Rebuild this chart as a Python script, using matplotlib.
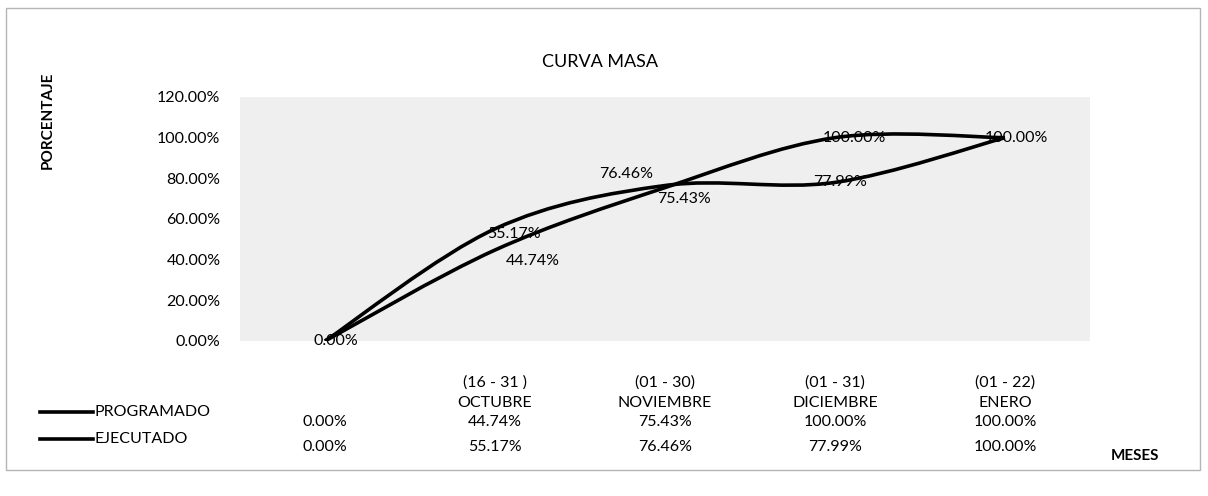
import matplotlib
matplotlib.use("Agg")
import matplotlib.pyplot as plt
import matplotlib.transforms as mtransforms
from matplotlib.path import Path
from matplotlib.patches import PathPatch, Rectangle
from matplotlib.lines import Line2D

plt.rcParams["font.family"] = ["Lato", "DejaVu Sans"]

# data
months_top = ["", "(16 - 31 )", "(01 - 30)", "(01 - 31)", "(01 - 22)"]
months_bot = ["", "OCTUBRE", "NOVIEMBRE", "DICIEMBRE", "ENERO"]
programado = [0.00, 44.74, 75.43, 100.00, 100.00]
ejecutado = [0.00, 55.17, 76.46, 77.99, 100.00]
yticks = [0, 20, 40, 60, 80, 100, 120]

W, H = 1208, 496
fig = plt.figure(figsize=(W / 100, H / 100), dpi=100)
ax = fig.add_axes([240 / W, 1 - 341 / H, 850 / W, 244 / H])
ax.set_facecolor("#efefef")
for s in ax.spines.values():
    s.set_visible(False)
ax.set_xlim(-0.5, 4.5)
ax.set_ylim(0, 120)
ax.set_xticks([])
ax.set_yticks(yticks)
ax.set_yticklabels([f"{v:.2f}%" for v in yticks], fontsize=11.5)
ax.tick_params(axis="y", length=0, pad=14)


def smooth(xs, ys):
    # Excel-like smoothed line (Catmull-Rom as cubic Bezier)
    verts = [(xs[0], ys[0])]
    codes = [Path.MOVETO]
    n = len(xs)
    for i in range(n - 1):
        x0, y0 = (xs[i - 1], ys[i - 1]) if i > 0 else (xs[i], ys[i])
        x1, y1 = xs[i], ys[i]
        x2, y2 = xs[i + 1], ys[i + 1]
        x3, y3 = (xs[i + 2], ys[i + 2]) if i + 2 < n else (x2, y2)
        c1 = (x1 + (x2 - x0) / 6, y1 + (y2 - y0) / 6)
        c2 = (x2 - (x3 - x1) / 6, y2 - (y3 - y1) / 6)
        verts += [c1, c2, (x2, y2)]
        codes += [Path.CURVE4] * 3
    return Path(verts, codes)


xs = list(range(len(programado)))
for series in (programado, ejecutado):
    ax.add_patch(PathPatch(smooth(xs, series), fill=False, ec="black", lw=2.6))

# data labels
lab_kw = dict(fontsize=11.5, color="black")
ax.annotate(f"{programado[0]:.2f}%", (0, programado[0]), xytext=(8, 0),
            textcoords="offset points", va="center", ha="center", **lab_kw)
ax.annotate(f"{programado[1]:.2f}%", (1, programado[1]), xytext=(8, -8),
            textcoords="offset points", va="center", ha="left", **lab_kw)
ax.annotate(f"{ejecutado[1]:.2f}%", (1, ejecutado[1]), xytext=(-6, -4),
            textcoords="offset points", va="center", ha="left", **lab_kw)
ax.annotate(f"{ejecutado[2]:.2f}%", (2, ejecutado[2]), xytext=(-28, 8),
            textcoords="offset points", va="center", ha="center", **lab_kw)
ax.annotate(f"{programado[2]:.2f}%", (2, programado[2]), xytext=(14, -8),
            textcoords="offset points", va="center", ha="center", **lab_kw)
ax.annotate(f"{programado[3]:.2f}%", (3, programado[3]), xytext=(14, 0),
            textcoords="offset points", va="center", ha="center", **lab_kw)
ax.annotate(f"{ejecutado[3]:.2f}%", (3, ejecutado[3]), xytext=(4, 0),
            textcoords="offset points", va="center", ha="center", **lab_kw)
ax.annotate(f"{ejecutado[4]:.2f}%", (4, ejecutado[4]), xytext=(8, 0),
            textcoords="offset points", va="center", ha="center", **lab_kw)

# title and axis titles
fig.text(600 / W, 1 - 62 / H, "CURVA MASA", ha="center", va="center", fontsize=13)
fig.text(48 / W, 1 - 120 / H, "PORCENTAJE", rotation=90, ha="center", va="center",
         fontsize=11, fontweight="bold")
fig.text(1135 / W, 1 - 456 / H, "MESES", ha="center", va="center",
         fontsize=11, fontweight="bold")

# data table below the chart
tr = mtransforms.blended_transform_factory(ax.transData, fig.transFigure)
for i in range(len(xs)):
    fig.text(i, 1 - 383 / H, months_top[i], transform=tr, ha="center", va="center", fontsize=11.5)
    fig.text(i, 1 - 403 / H, months_bot[i], transform=tr, ha="center", va="center", fontsize=11.5)
    fig.text(i, 1 - 422 / H, f"{programado[i]:.2f}%", transform=tr, ha="center", va="center", fontsize=11.5)
    fig.text(i, 1 - 447 / H, f"{ejecutado[i]:.2f}%", transform=tr, ha="center", va="center", fontsize=11.5)

for yp, name in ((412, "PROGRAMADO"), (439, "EJECUTADO")):
    fig.add_artist(Line2D([40 / W, 93 / W], [1 - yp / H] * 2, color="black", lw=2.6))
    fig.text(94 / W, 1 - yp / H, name, ha="left", va="center", fontsize=11.5)

# outer chart border
fig.add_artist(Rectangle((6 / W, 1 - 470 / H), 1194 / W, 462 / H, fill=False,
                         ec="#b5b5b5", lw=1.0, transform=fig.transFigure))

fig.savefig("out.png", dpi=100)
